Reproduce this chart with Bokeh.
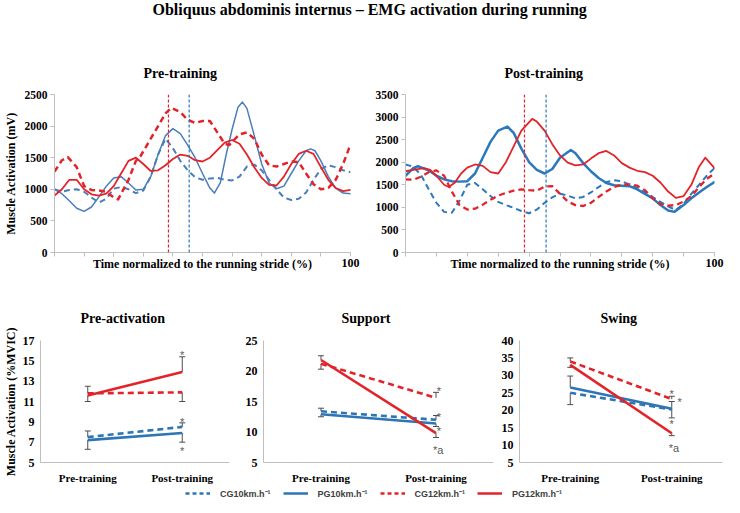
from bokeh.plotting import figure
from bokeh.layouts import column, row
from bokeh.models import (Range1d, FactorRange, Span, Whisker, TeeHead, ColumnDataSource,
                          Legend, LegendItem, FixedTicker)
from bokeh.core.properties import value
from bokeh.embed import file_html
from bokeh.resources import INLINE

SERIF = "Liberation Serif"
SANS = "Liberation Sans"
RED = "#E3232A"
BLUE_L = "#4A7EBB"
BLUE_D = "#2B78BE"
BLUE = "#2E75B6"
AX = "#BFBFBF"
ERR = "#4D4D4D"

MAIN_TITLE = "Obliquus abdominis internus \u2013 EMG activation during running"

# ---------------- top panels: EMG curves over the stride (%) ----------------
grid = [0, 2.5, 5, 7.5, 10, 12.5, 15, 17.5, 20, 22.5, 25, 27.5, 30, 32.5, 35, 37.5, 40,
        42.5, 45, 47.5, 50, 52.5, 55, 57.5, 60, 62.5, 65, 67.5, 70, 72.5, 75, 77.5, 80,
        82.5, 85, 87.5, 90, 92.5, 95, 97.5, 100]

pre_cg10_x = grid
pre_cg10_y = [1000, 960, 990, 1000, 960, 870, 790, 850, 1010, 1035, 1000, 940, 980, 1200,
              1550, 1800, 1650, 1450, 1300, 1190, 1150, 1170, 1180, 1150, 1140, 1200, 1360,
              1390, 1300, 1150, 1000, 870, 830, 850, 950, 1150, 1320, 1380, 1350, 1300, 1270]

pre_pg10_x = [0, 2.5, 5, 7.5, 10, 12.5, 15, 17.5, 20, 22.5, 25, 27.5, 30, 32.5, 35, 37.5, 40,
              42.5, 45, 47.5, 50, 52.5, 54, 56, 58, 60, 62, 63.5, 65, 67.5, 70, 72.5, 75,
              77.5, 80, 82.5, 85, 86.5, 88, 90, 92.5, 95, 97.5, 100]
pre_pg10_y = [1000, 930, 820, 700, 650, 720, 880, 1050, 1180, 1200, 1100, 990, 1000, 1200,
              1550, 1850, 1960, 1880, 1700, 1500, 1250, 1020, 940, 1100, 1550, 1950, 2300,
              2380, 2280, 1850, 1400, 1100, 1010, 1050, 1250, 1450, 1610, 1640, 1610, 1450,
              1200, 1020, 940, 930]

pre_cg12_x = [0, 2.5, 4.5, 7.5, 10, 12.5, 15, 17.5, 20, 21.5, 25, 27.5, 29, 32.5, 35, 37.5,
              39.5, 42.5, 45, 47.5, 50, 52.5, 55, 57.5, 59, 62.5, 65, 67.5, 70, 72.5, 75,
              77.5, 80, 82.5, 85, 87.5, 90, 92.5, 95, 97.5, 100]
pre_cg12_y = [1280, 1460, 1510, 1350, 1050, 990, 980, 960, 870, 840, 1150, 1450, 1520, 1800,
              2000, 2200, 2290, 2220, 2100, 2050, 2080, 2080, 1900, 1720, 1700, 1870, 1900,
              1800, 1550, 1380, 1360, 1400, 1440, 1430, 1250, 1080, 1000, 1020, 1150, 1400,
              1710]

pre_pg12_x = grid
pre_pg12_y = [900, 1000, 1150, 1150, 1000, 920, 900, 930, 1050, 1250, 1450, 1500, 1400, 1290,
              1300, 1380, 1480, 1550, 1530, 1460, 1440, 1500, 1620, 1740, 1780, 1720, 1550,
              1350, 1180, 1070, 1060, 1200, 1400, 1560, 1610, 1560, 1350, 1150, 1020, 970, 990]

post_cg10_x = grid
post_cg10_y = [1950, 1900, 1720, 1400, 1100, 900, 880, 1150, 1500, 1540, 1400, 1250, 1120,
               1050, 990, 920, 870, 950, 1100, 1220, 1300, 1260, 1200, 1230, 1330, 1450,
               1560, 1600, 1580, 1500, 1430, 1330, 1230, 1120, 1020, 940, 1080, 1300, 1500,
               1700, 1870]

post_pg10_x = [0, 2.5, 4, 7.5, 10, 12.5, 15, 17.5, 20, 22.5, 25, 27.5, 30, 33, 35, 37.5, 40,
               42.5, 45, 47.5, 50, 53.5, 55, 57.5, 60, 62.5, 65, 67.5, 70, 72.5, 75, 77.5,
               80, 82.5, 85, 87, 90, 92.5, 95, 97.5, 100]
post_pg10_y = [1700, 1870, 1910, 1820, 1700, 1620, 1580, 1570, 1580, 1750, 2100, 2450, 2700,
               2790, 2650, 2300, 2000, 1830, 1750, 1850, 2100, 2270, 2200, 1980, 1800, 1650,
               1540, 1490, 1480, 1470, 1400, 1300, 1200, 1050, 930, 900, 1050, 1200, 1330,
               1450, 1560]

post_cg12_x = grid
post_cg12_y = [1620, 1610, 1680, 1780, 1820, 1700, 1350, 1050, 950, 970, 1060, 1170, 1260,
               1320, 1370, 1400, 1380, 1370, 1460, 1470, 1300, 1130, 1050, 1030, 1100, 1230,
               1350, 1450, 1500, 1510, 1480, 1380, 1200, 1070, 1040, 1050, 1130, 1250, 1450,
               1630, 1750]

post_pg12_x = [0, 2.5, 6, 8, 10, 12.5, 14, 16, 18, 20, 22.5, 25, 27.5, 30, 32.5, 35, 37.5, 41,
               42.5, 45, 47.5, 50, 52.5, 55, 57.5, 60, 62.5, 65, 67.5, 70, 72.5, 75, 77.5, 80,
               82.5, 85, 87.5, 90, 92.5, 95, 97, 100]
post_pg12_y = [1800, 1830, 1870, 1830, 1700, 1500, 1450, 1550, 1750, 1880, 1950, 1920, 1780,
               1750, 2000, 2350, 2700, 2960, 2900, 2700, 2400, 2150, 1990, 1930, 1950, 2080,
               2200, 2250, 2150, 1980, 1880, 1810, 1780, 1700, 1550, 1350, 1210, 1250, 1500,
               1900, 2100, 1870]

# vertical phase markers (% of stride)
marker_cg = 38.5
marker_pg = 45.5

x_ticks = [0, 10, 20, 30, 40, 50, 60, 70, 80, 90, 100]
pre_y_ticks = [0, 500, 1000, 1500, 2000, 2500]
post_y_ticks = [0, 500, 1000, 1500, 2000, 2500, 3000, 3500]

# ---------------- bottom panels: mean activation (%MVIC) ----------------
phases = ["Pre-training", "Post-training"]

preact_cg10 = [7.5, 8.5];    preact_cg10_err = [8.1, 8.9]
preact_pg10 = [7.2, 7.9];    preact_pg10_err = [6.3, 7.0]
preact_cg12 = [11.8, 11.9];  preact_cg12_err = [12.5, 11.0]
preact_pg12 = [11.6, 13.9];  preact_pg12_err = [11.0, 15.4]

support_cg10 = [13.4, 12.0]; support_cg10_err = [13.9, 12.7]
support_pg10 = [12.9, 11.4]; support_pg10_err = [12.5, 10.9]
support_cg12 = [21.2, 15.6]; support_cg12_err = [20.3, 16.5]
support_pg12 = [21.8, 9.8];  support_pg12_err = [22.5, 9.1]

swing_cg10 = [25.0, 20.2];   swing_cg10_err = [21.6, 22.5]
swing_pg10 = [26.5, 20.4];   swing_pg10_err = [29.8, 17.8]
swing_cg12 = [34.0, 23.2];   swing_cg12_err = [35.0, 24.0]
swing_pg12 = [33.0, 13.4];   swing_pg12_err = [32.3, 12.7]

preact_marks_y = [15.9, 9.3, 6.4];         preact_marks = ["*", "*", "*"]
support_marks_y = [17.2, 12.9, 10.6];      support_marks = ["*", "*", "*"]
support_marka_y = [7.6];                   support_marka = ["*a"]
swing_marks_y = [25.6, 16.9];              swing_marks = ["*", "*"]
swing_mark2_y = [23.3];                    swing_mark2 = ["*"]
swing_marka_y = [9.9];                     swing_marka = ["*a"]

legend_labels = ["CG10km.h\u207b\u00b9", "PG10km.h\u207b\u00b9", "CG12km.h\u207b\u00b9", "PG12km.h\u207b\u00b9"]


def base_fig(width, height, bl, br, bt, bb, **kw):
    p = figure(width=width, height=height, output_backend="svg", toolbar_location=None,
               min_border_left=bl, min_border_right=br, min_border_top=bt,
               min_border_bottom=bb, **kw)
    p.outline_line_color = None
    p.xgrid.visible = False
    p.ygrid.visible = False
    p.background_fill_color = "white"
    p.border_fill_color = "white"
    return p


def set_title(p, text, offset, standoff):
    p.title.text = text
    p.title.align = "left"
    p.title.offset = offset
    p.title.standoff = standoff
    p.title.text_font = SERIF
    p.title.text_font_size = "14px"
    p.title.text_font_style = "bold"
    p.title.text_color = "black"


def style_y(p, ticks, label, fsize="11.5px"):
    ax = p.yaxis[0]
    ax.ticker = FixedTicker(ticks=ticks)
    ax.axis_line_color = AX
    ax.major_tick_line_color = AX
    ax.minor_tick_line_color = None
    ax.major_label_text_font = SERIF
    ax.major_label_text_font_style = "bold"
    ax.major_label_text_font_size = fsize
    ax.major_label_text_color = "black"
    if label:
        ax.axis_label = label
        ax.axis_label_text_font = SERIF
        ax.axis_label_text_font_style = "bold"
        ax.axis_label_text_font_size = "12px"
        ax.axis_label_text_color = "black"


def make_top(width, bl, br, ymax, yticks, title, toff, ylabel, curves):
    p = base_fig(width, 260, bl, br, 74, 28,
                 x_range=Range1d(0, 100), y_range=Range1d(0, ymax))
    set_title(p, title, toff, 28)
    style_y(p, yticks, ylabel)
    p.yaxis.major_tick_out = 4
    p.yaxis.major_tick_in = 0
    p.yaxis.major_label_standoff = 3
    p.yaxis.axis_label_standoff = 4
    xa = p.xaxis[0]
    xa.ticker = FixedTicker(ticks=x_ticks)
    xa.major_label_overrides = {t: ("100" if t == 100 else "") for t in x_ticks}
    xa.axis_line_color = AX
    xa.major_tick_line_color = AX
    xa.minor_tick_line_color = None
    xa.major_tick_out = 4
    xa.major_tick_in = 0
    xa.major_label_standoff = 2
    xa.major_label_text_font = SERIF
    xa.major_label_text_font_style = "bold"
    xa.major_label_text_font_size = "12px"
    xa.major_label_text_color = "black"
    xa.axis_label = "Time normalized to the running stride (%)"
    xa.axis_label_text_font = SERIF
    xa.axis_label_text_font_style = "bold"
    xa.axis_label_text_font_size = "12px"
    xa.axis_label_text_color = "black"
    xa.axis_label_standoff = -13
    p.add_layout(Span(location=marker_cg, dimension="height", line_color=RED,
                      line_dash="3 2", line_width=1.2))
    p.add_layout(Span(location=marker_pg, dimension="height", line_color=BLUE,
                      line_dash="3 2", line_width=1.2))
    for xs, ys, color, dash, lw in curves:
        p.line(x=xs, y=ys, line_color=color, line_dash=dash, line_width=lw,
               line_join="round", line_cap="round" if dash == "solid" else "butt")
    return p


p1 = make_top(362, 48, 12, 2500, pre_y_ticks, "Pre-training", 89, "Muscle Activation (mV)", [
    (pre_cg10_x, pre_cg10_y, BLUE_L, "6 4", 2.0),
    (pre_pg10_x, pre_pg10_y, BLUE_L, "solid", 1.5),
    (pre_cg12_x, pre_cg12_y, RED, "6 4", 2.5),
    (pre_pg12_x, pre_pg12_y, RED, "solid", 1.8),
])
p2 = make_top(362, 43, 10, 3500, post_y_ticks, "Post-training", 99, None, [
    (post_cg10_x, post_cg10_y, BLUE_D, "6 4", 2.0),
    (post_pg10_x, post_pg10_y, BLUE_D, "solid", 2.5),
    (post_cg12_x, post_cg12_y, RED, "6 4", 2.3),
    (post_pg12_x, post_pg12_y, RED, "solid", 1.8),
])


def add_group(p, means, ends, color, dash):
    p.line(x=phases, y=means, line_color=color, line_dash=dash, line_width=2.6)
    up = [(c, m, e) for c, m, e in zip(phases, means, ends) if e >= m]
    dn = [(c, m, e) for c, m, e in zip(phases, means, ends) if e < m]
    if up:
        src = ColumnDataSource(dict(base=[u[0] for u in up], lower=[u[1] for u in up],
                                    upper=[u[2] for u in up]))
        p.add_layout(Whisker(source=src, base="base", lower="lower", upper="upper",
                             line_color=ERR, line_width=1, lower_head=None,
                             upper_head=TeeHead(size=6, line_color=ERR, line_width=1)))
    if dn:
        src = ColumnDataSource(dict(base=[u[0] for u in dn], lower=[u[2] for u in dn],
                                    upper=[u[1] for u in dn]))
        p.add_layout(Whisker(source=src, base="base", lower="lower", upper="upper",
                             line_color=ERR, line_width=1, upper_head=None,
                             lower_head=TeeHead(size=6, line_color=ERR, line_width=1)))


def add_marks(p, ys, texts, align="center", xoff=0):
    p.text(x=[phases[1]] * len(ys), y=ys, text=texts, text_align=align,
           text_baseline="middle", text_font=value(SANS), text_font_size="11px",
           text_color="#595959", x_offset=xoff, y_offset=3)


def make_bottom(width, bl, br, ymin, ymax, yticks, title, toff, ylabel, groups):
    p = base_fig(width, 206, bl, br, 60, 22,
                 x_range=FactorRange(factors=phases, range_padding=0),
                 y_range=Range1d(ymin, ymax))
    set_title(p, title, toff, 30)
    style_y(p, yticks, ylabel, "12px")
    p.yaxis.major_tick_out = 0
    p.yaxis.major_tick_in = 0
    p.yaxis.major_label_standoff = 6
    p.yaxis.axis_label_standoff = 2
    xa = p.xaxis[0]
    xa.axis_line_color = AX
    xa.major_tick_line_color = None
    xa.minor_tick_line_color = None
    xa.major_label_standoff = 3
    xa.major_label_text_font = SERIF
    xa.major_label_text_font_style = "bold"
    xa.major_label_text_font_size = "11px"
    xa.major_label_text_color = "black"
    for means, ends, color, dash in groups:
        add_group(p, means, ends, color, dash)
    return p


p3 = make_bottom(242, 34, 13, 5, 17, [5, 7, 9, 11, 13, 15, 17], "Pre-activation", 40,
                 "Muscle Activation (%MVIC)", [
                     (preact_cg10, preact_cg10_err, BLUE, "6 4"),
                     (preact_pg10, preact_pg10_err, BLUE, "solid"),
                     (preact_cg12, preact_cg12_err, RED, "6 4"),
                     (preact_pg12, preact_pg12_err, RED, "solid"),
                 ])
add_marks(p3, preact_marks_y, preact_marks)

p4 = make_bottom(254, 17, 3, 5, 25, [5, 10, 15, 20, 25], "Support", 78, None, [
    (support_cg10, support_cg10_err, BLUE, "6 4"),
    (support_pg10, support_pg10_err, BLUE, "solid"),
    (support_cg12, support_cg12_err, RED, "6 4"),
    (support_pg12, support_pg12_err, RED, "solid"),
])
add_marks(p4, support_marks_y, support_marks, xoff=3)
add_marks(p4, support_marka_y, support_marka, align="left", xoff=-3)

p5 = make_bottom(228, 23, 2, 5, 40, [5, 10, 15, 20, 25, 30, 35, 40], "Swing", 81, None, [
    (swing_cg10, swing_cg10_err, BLUE, "6 4"),
    (swing_pg10, swing_pg10_err, BLUE, "solid"),
    (swing_cg12, swing_cg12_err, RED, "6 4"),
    (swing_pg12, swing_pg12_err, RED, "solid"),
])
add_marks(p5, swing_marks_y, swing_marks)
add_marks(p5, swing_mark2_y, swing_mark2, xoff=8)
add_marks(p5, swing_marka_y, swing_marka, align="left", xoff=-3)

# ---------------- title strip ----------------
tf = figure(width=724, height=20, x_axis_type=None, y_axis_type=None, min_border=0,
            output_backend="svg", toolbar_location=None,
            x_range=Range1d(0, 1), y_range=Range1d(0, 1))
tf.outline_line_color = None
tf.grid.visible = False
tf.title.text = MAIN_TITLE
tf.title.align = "left"
tf.title.offset = 152
tf.title.standoff = 0
tf.title.vertical_align = "top"
tf.title.text_font = SERIF
tf.title.text_font_size = "16px"
tf.title.text_font_style = "bold"
tf.title.text_color = "black"

# ---------------- legend strip ----------------
nan = float("nan")
lf = figure(width=724, height=20, x_axis_type=None, y_axis_type=None, min_border=0,
            output_backend="svg", toolbar_location=None,
            x_range=Range1d(0, 1), y_range=Range1d(0, 1))
lf.outline_line_color = None
lf.grid.visible = False
items = []
for lab, color, dash in zip(legend_labels, [BLUE, BLUE, RED, RED],
                            ["4 3", "solid", "4 3", "solid"]):
    r = lf.line(x=[nan], y=[nan], line_color=color, line_dash=dash, line_width=2.5)
    items.append(LegendItem(label=lab, renderers=[r]))
leg = Legend(items=items, orientation="horizontal", location=(185, 6),
             padding=0, margin=0, spacing=12, glyph_width=25, glyph_height=14,
             label_standoff=10, border_line_color=None, background_fill_alpha=0,
             label_text_font=SANS, label_text_font_size="9px",
             label_text_font_style="bold", label_text_color="#404040")
lf.add_layout(leg)

layout = column(tf, row(p1, p2), row(p3, p4, p5), lf)

with open("out.html", "w") as f:
    f.write(file_html(layout, INLINE))
